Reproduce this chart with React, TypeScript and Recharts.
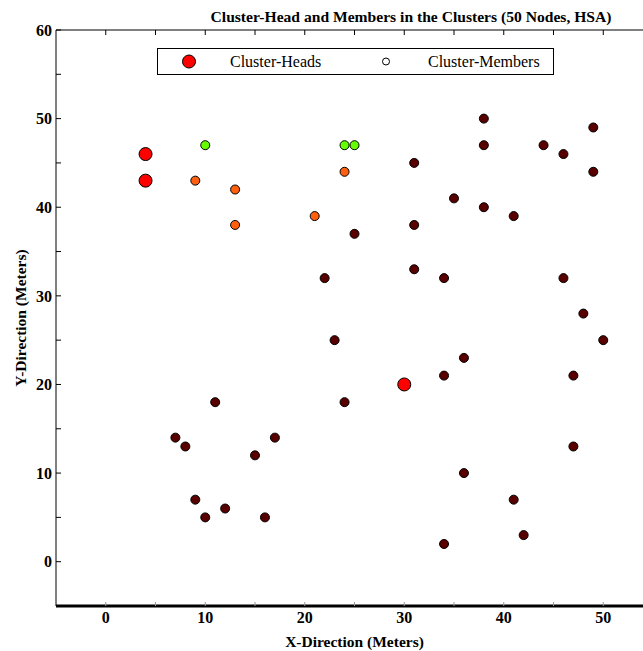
import React from 'react';
import { ScatterChart, Scatter, XAxis, YAxis } from 'recharts';

const headsData = [
  { x: 4, y: 46 },
  { x: 4, y: 43 },
  { x: 30, y: 20 },
];
const greenMembers = [
  { x: 10, y: 47 },
  { x: 24, y: 47 },
  { x: 25, y: 47 },
];
const orangeMembers = [
  { x: 9, y: 43 },
  { x: 13, y: 42 },
  { x: 13, y: 38 },
  { x: 21, y: 39 },
  { x: 24, y: 44 },
];
const darkMembers = [
  { x: 38, y: 50 }, { x: 38, y: 47 }, { x: 44, y: 47 }, { x: 46, y: 46 },
  { x: 49, y: 49 }, { x: 49, y: 44 }, { x: 31, y: 45 }, { x: 35, y: 41 },
  { x: 38, y: 40 }, { x: 41, y: 39 }, { x: 31, y: 38 }, { x: 25, y: 37 },
  { x: 22, y: 32 }, { x: 31, y: 33 }, { x: 34, y: 32 }, { x: 46, y: 32 },
  { x: 48, y: 28 }, { x: 23, y: 25 }, { x: 50, y: 25 }, { x: 36, y: 23 },
  { x: 34, y: 21 }, { x: 47, y: 21 }, { x: 24, y: 18 }, { x: 11, y: 18 },
  { x: 7, y: 14 }, { x: 8, y: 13 }, { x: 17, y: 14 }, { x: 15, y: 12 },
  { x: 47, y: 13 }, { x: 36, y: 10 }, { x: 9, y: 7 }, { x: 41, y: 7 },
  { x: 12, y: 6 }, { x: 10, y: 5 }, { x: 16, y: 5 }, { x: 34, y: 2 },
  { x: 42, y: 3 },
];

const xTicks = [0, 5, 10, 15, 20, 25, 30, 35, 40, 45, 50, 55];
const yTicks = [0, 5, 10, 15, 20, 25, 30, 35, 40, 45, 50, 55, 60];
const labelEvery = 10;

const title = 'Cluster-Head and Members in the Clusters (50 Nodes, HSA)';
const xLabel = 'X-Direction (Meters)';
const yLabel = 'Y-Direction (Meters)';
const legendHeads = 'Cluster-Heads';
const legendMembers = 'Cluster-Members';

const FONT = '"Liberation Serif", "Times New Roman", serif';

const dot = (r: number, fill: string) => (props: any) => {
  const { cx, cy } = props;
  if (cx == null || cy == null) return <g />;
  return <circle cx={cx} cy={cy} r={r} fill={fill} stroke="#000" strokeWidth={1} />;
};
const nothing = () => <g />;
const majorOnly = (v: number) => (v % labelEvery === 0 && v <= 50 + (v > 50 && v <= 60 ? 10 : 0) ? String(v) : '');
const xMajorOnly = (v: number) => (v % labelEvery === 0 && v <= 50 ? String(v) : '');
const yMajorOnly = (v: number) => (v % labelEvery === 0 ? String(v) : '');

const tickStyle = { fontFamily: FONT, fontSize: 16, fontWeight: 'bold', fill: '#000' };

export default function App() {
  void majorOnly;
  return (
    <div style={{ position: 'absolute', left: 0, top: 0, width: 643, height: 651, overflow: 'hidden', background: '#fff' }}>
      <ScatterChart width={660} height={651} margin={{ top: 29, right: 7, bottom: 0, left: 0 }}>
        <XAxis
          xAxisId={0}
          type="number"
          dataKey="x"
          domain={[-5, 55]}
          ticks={xTicks}
          interval={0}
          allowDataOverflow
          height={45}
          tickSize={-4}
          tickMargin={10}
          tickFormatter={xMajorOnly}
          tick={tickStyle}
          tickLine={{ stroke: '#999', strokeWidth: 1 }}
          axisLine={{ stroke: '#000', strokeWidth: 3 }}
          label={{ value: xLabel, position: 'insideBottom', offset: 4, style: { fontFamily: FONT, fontSize: 15.5, fontWeight: 'bold', fill: '#000' } }}
        />
        <XAxis
          xAxisId="top"
          type="number"
          dataKey="x"
          orientation="top"
          domain={[-5, 55]}
          ticks={xTicks}
          interval={0}
          allowDataOverflow
          height={1}
          tickSize={-5}
          tickMargin={0}
          tickFormatter={() => ''}
          tickLine={{ stroke: '#000' }}
          axisLine={{ stroke: '#000', strokeWidth: 1 }}
        />
        <YAxis
          yAxisId={0}
          type="number"
          dataKey="y"
          domain={[-5, 60]}
          ticks={yTicks}
          interval={0}
          allowDataOverflow
          width={56}
          tickSize={-5}
          tickMargin={9}
          tickFormatter={yMajorOnly}
          tick={tickStyle}
          tickLine={{ stroke: '#000' }}
          axisLine={{ stroke: '#000', strokeWidth: 1 }}
          label={{
            content: (p: any) => {
              const vb = p.viewBox || { x: 0, y: 30, width: 56, height: 576 };
              const cx = vb.x + 20;
              const cy = vb.y + vb.height / 2;
              return (
                <text x={cx} y={cy} transform={`rotate(-90 ${cx} ${cy})`} textAnchor="middle" dominantBaseline="central"
                  style={{ fontFamily: FONT, fontSize: 15.5, fontWeight: 'bold', fill: '#000' }}>
                  {yLabel}
                </text>
              );
            },
          }}
        />
        <Scatter data={headsData} xAxisId="top" yAxisId={0} isAnimationActive={false} shape={nothing} legendType="none" />
        <Scatter data={darkMembers} xAxisId={0} yAxisId={0} isAnimationActive={false} shape={dot(4.5, '#580000')} />
        <Scatter data={orangeMembers} xAxisId={0} yAxisId={0} isAnimationActive={false} shape={dot(4.5, '#ff6010')} />
        <Scatter data={greenMembers} xAxisId={0} yAxisId={0} isAnimationActive={false} shape={dot(4.5, '#66ff00')} />
        <Scatter data={headsData} xAxisId={0} yAxisId={0} isAnimationActive={false} shape={dot(6.5, '#ff0000')} />
      </ScatterChart>
      <svg width={643} height={651} style={{ position: 'absolute', left: 0, top: 0, pointerEvents: 'none' }}>
        <text x={411} y={22} textAnchor="middle" style={{ fontFamily: FONT, fontSize: 15.6, fontWeight: 'bold', fill: '#000' }}>
          {title}
        </text>
        <g transform="translate(157.5,48.5)">
          <rect x={0} y={0} width={396} height={26} fill="#fff" stroke="#000" strokeWidth={1} />
          <circle cx={31.5} cy={13} r={6.5} fill="#ff0000" stroke="#000" strokeWidth={1} />
          <text x={72.5} y={18.5} style={{ fontFamily: FONT, fontSize: 16, fill: '#000' }}>{legendHeads}</text>
          <circle cx={228.5} cy={13} r={3.5} fill="#fff" stroke="#000" strokeWidth={1} />
          <text x={270.5} y={18.5} style={{ fontFamily: FONT, fontSize: 16, fill: '#000' }}>{legendMembers}</text>
        </g>
      </svg>
    </div>
  );
}
